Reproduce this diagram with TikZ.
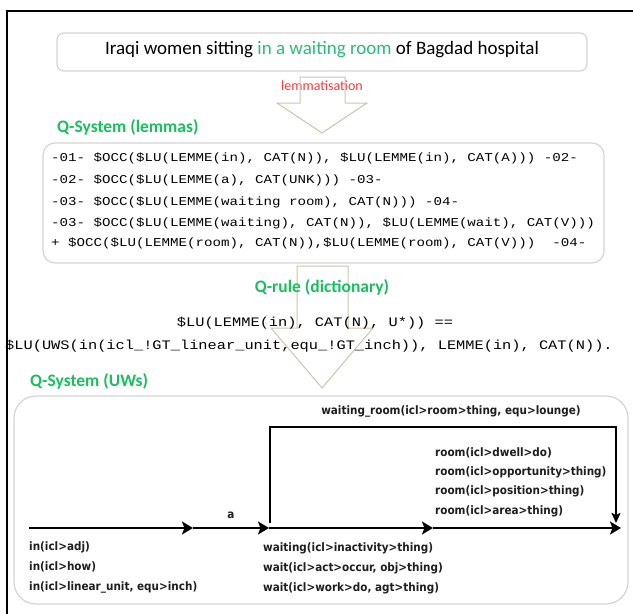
\documentclass[tikz,border=0pt]{standalone}
\usepackage{fontspec}
\setmainfont{Carlito}
\newfontfamily\codefont[FakeStretch=1.18]{Liberation Mono}
\newfontfamily\uwfont{DejaVu Sans Condensed}
\usetikzlibrary{arrows.meta}
\definecolor{qgreen}{RGB}{25,190,95}
\definecolor{lightgreen}{RGB}{45,185,120}
\definecolor{lemred}{RGB}{235,65,65}
\definecolor{tanline}{RGB}{205,196,172}
\definecolor{boxgray}{RGB}{212,212,212}
\definecolor{uwtext}{RGB}{30,30,30}
\begin{document}
\begin{tikzpicture}[x=1pt,y=-1pt,
  roundbox/.style={draw=boxgray,line width=1.2pt,rounded corners=#1},
  heading/.style={font=\bfseries\fontsize{17.5}{20}\selectfont,text=qgreen,anchor=west,inner sep=0pt},
  codeline/.style={font=\codefont\fontsize{12}{14}\selectfont,anchor=west,inner sep=0pt},
  ruleline/.style={font=\codefont\fontsize{13}{15}\selectfont,inner sep=0pt},
  uw/.style={font=\uwfont\bfseries\fontsize{11.6}{13}\selectfont,text=uwtext,anchor=west,inner sep=0pt},
  flow/.style={line width=2.8pt,-{Stealth[length=11pt,width=13pt,inset=2.5pt]}},
  bracketline/.style={line width=1.8pt,-{Stealth[length=10pt,width=9pt,inset=2pt]}},
  bigarrow/.style={draw=tanline,line width=1pt,line join=miter}
]
\useasboundingbox (0,0) rectangle (633,614);
% outer frame
\draw[line width=2pt] (7,614) -- (7,11) -- (633,11);

% sentence box
\draw[roundbox=7pt] (57,33) rectangle (587,71);
\node[inner sep=0pt,font=\fontsize{19}{22}\selectfont] (sent) at (322,50)
  {Iraqi women sitting \textcolor{lightgreen}{in a waiting room} of Bagdad hospital};

% lemmatisation arrow
\node[inner sep=0pt,text=lemred,font=\fontsize{14}{16}\selectfont] (lemm) at (322,86) {lemmatisation};
\draw[bigarrow] (300,77) -- (345,77) -- (345,103) -- (367,103) -- (322,133) -- (277,103) -- (300,103) -- cycle;

% Q-System (lemmas)
\node[heading] (qlem) at (57,127) {Q-System (lemmas)};
\draw[roundbox=12pt] (43,143) rectangle (604,263);
\node[codeline] (c1) at (51,158) {-01- \$OCC(\$LU(LEMME(in), CAT(N)), \$LU(LEMME(in), CAT(A))) -02-};
\node[codeline] (c2) at (51,180) {-02- \$OCC(\$LU(LEMME(a), CAT(UNK))) -03-};
\node[codeline] (c3) at (51,202) {-03- \$OCC(\$LU(LEMME(waiting room), CAT(N))) -04-};
\node[codeline] (c4) at (51,223) {-03- \$OCC(\$LU(LEMME(waiting), CAT(N)), \$LU(LEMME(wait), CAT(V)))};
\node[codeline] (c5) at (51,243) {+ \$OCC(\$LU(LEMME(room), CAT(N)),\$LU(LEMME(room), CAT(V)))~~-04-};

% Q-rule arrow
\draw[bigarrow] (297,266) -- (348,266) -- (348,328) -- (373,328) -- (322,388) -- (271,328) -- (297,328) -- cycle;
\node[heading,anchor=center] (qrule) at (322,287) {Q-rule (dictionary)};
\node[ruleline] (r1) at (315,323) {\$LU(LEMME(in), CAT(N), U*)) ==};
\node[ruleline] (r2) at (309,346) {\$LU(UWS(in(icl\_!GT\_linear\_unit,equ\_!GT\_inch)), LEMME(in), CAT(N)).};

% Q-System (UWs)
\node[heading] (quw) at (30,381) {Q-System (UWs)};
\draw[roundbox=22pt] (14,396) rectangle (628,604);

\coordinate (p0) at (29,528);
\coordinate (p1) at (193,528);
\coordinate (p2) at (269,528);
\coordinate (p3) at (433,528);
\coordinate (p4) at (621,528);
\coordinate (b0) at (270,523);
\coordinate (b1) at (270,427);
\coordinate (b2) at (616,427);
\coordinate (b3) at (616,523);

\draw[flow] (p0) -- (p1);
\draw[flow] (p1) -- (p2);
\draw[flow] (p2) -- (p3);
\draw[flow] (p3) -- (p4);
\draw[bracketline] (b0) -- (b1) -- (b2) -- (b3);

\node[uw,anchor=center] (wroom) at (451,411) {waiting\_room(icl>room>thing, equ>lounge)};
\node[uw,anchor=center] (alab) at (231,515) {a};

\node[uw] (rm1) at (435,453) {room(icl>dwell>do)};
\node[uw] (rm2) at (435,472) {room(icl>opportunity>thing)};
\node[uw] (rm3) at (435,491) {room(icl>position>thing)};
\node[uw] (rm4) at (435,511) {room(icl>area>thing)};

\node[uw] (in1) at (29,547) {in(icl>adj)};
\node[uw] (in2) at (29,567) {in(icl>how)};
\node[uw] (in3) at (29,587) {in(icl>linear\_unit, equ>inch)};

\node[uw] (w1) at (263,548) {waiting(icl>inactivity>thing)};
\node[uw] (w2) at (263,568) {wait(icl>act>occur, obj>thing)};
\node[uw] (w3) at (263,588) {wait(icl>work>do, agt>thing)};
\end{tikzpicture}
\end{document}
